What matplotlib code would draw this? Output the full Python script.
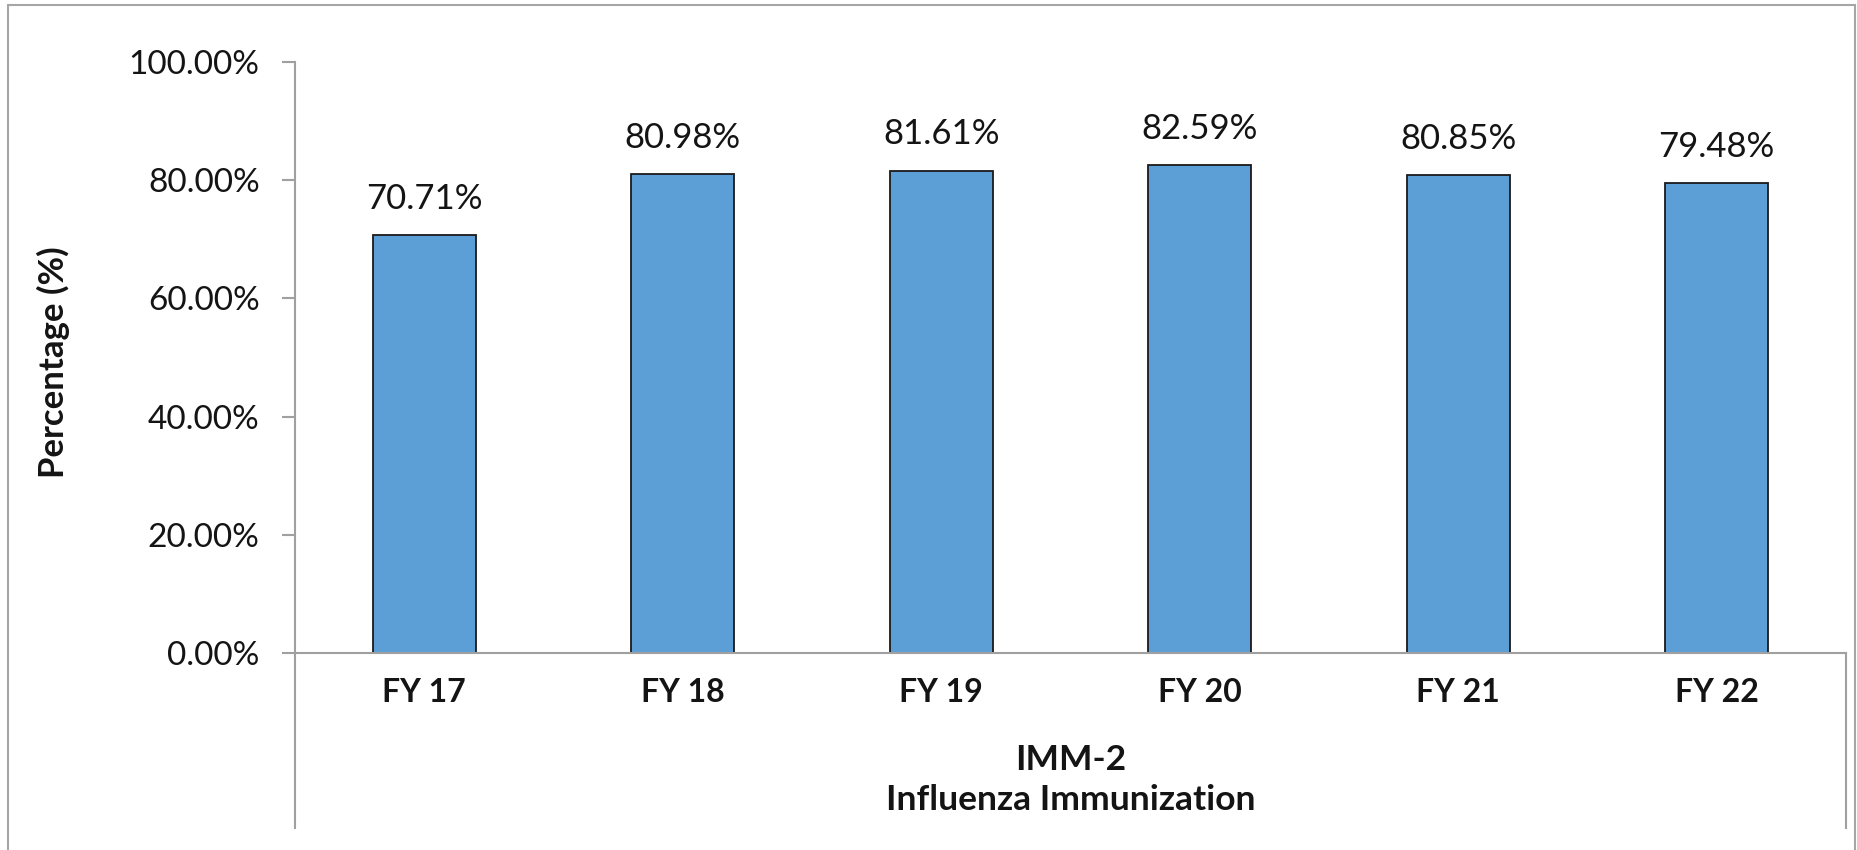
import matplotlib
matplotlib.use("Agg")
import matplotlib.pyplot as plt
from matplotlib.patches import Rectangle
from matplotlib.lines import Line2D
from matplotlib.ticker import FuncFormatter

categories = ["FY 17", "FY 18", "FY 19", "FY 20", "FY 21", "FY 22"]
values = [70.71, 80.98, 81.61, 82.59, 80.85, 79.48]
yticks = [0, 20, 40, 60, 80, 100]
group_label = "IMM-2\nInfluenza Immunization"
y_label = "Percentage (%)"

plt.rcParams['font.family'] = ['Lato', 'DejaVu Sans']

W, H = 1857, 850
fig = plt.figure(figsize=(W / 100, H / 100), dpi=100)

ax_l, ax_r, ax_b, ax_t = 295, 1846, 653, 62
ax = fig.add_axes([ax_l / W, (H - ax_b) / H, (ax_r - ax_l) / W, (ax_b - ax_t) / H])

x = list(range(len(categories)))
bars = ax.bar(x, values, width=0.4, color="#5B9FD6", edgecolor="#1a1a1a", linewidth=1.3, zorder=3)

txtc = "#141414"
for xi, v in zip(x, values):
    ax.annotate(f"{v:.2f}%", (xi, v), xytext=(0, 19), textcoords="offset points",
                ha="center", va="baseline", fontsize=25, color=txtc)

ax.set_xlim(-0.5, len(categories) - 0.5)
ax.set_ylim(0, 100)
ax.set_yticks(yticks)
ax.yaxis.set_major_formatter(FuncFormatter(lambda v, p: f"{v:.2f}%"))
ax.set_xticks(x)
ax.set_xticklabels(categories, fontweight="bold")

axis_c = "#a0a0a0"
for s in ["top", "right"]:
    ax.spines[s].set_visible(False)
for s in ["left", "bottom"]:
    ax.spines[s].set_color(axis_c)
    ax.spines[s].set_linewidth(1.5)
    ax.spines[s].set_zorder(4)

ax.tick_params(axis="y", length=9.4, width=1.5, color=axis_c, pad=16, labelsize=24, labelcolor=txtc)
ax.tick_params(axis="x", length=0, pad=18, labelsize=23, labelcolor=txtc)

# category box below the axis
depth = (828 - ax_b) / (ax_b - ax_t)
ax.add_line(Line2D([0, 0], [0, -depth], transform=ax.transAxes, color=axis_c, lw=1.5, clip_on=False))
ax.add_line(Line2D([1, 1], [0, -depth], transform=ax.transAxes, color=axis_c, lw=1.5, clip_on=False))

ax.text(0.5, -(744 - ax_b) / (ax_b - ax_t), group_label, transform=ax.transAxes,
        ha="center", va="top", fontsize=25.5, fontweight="bold", color=txtc, linespacing=1.32)

fig.text(53 / W, (H - 362) / H, y_label, rotation=90, ha="center", va="center",
         fontsize=25, fontweight="bold", color=txtc)

# outer chart border
fig.patches.append(Rectangle((8 / W, -0.05), (1855 - 8) / W, (H - 5) / H + 0.05,
                             transform=fig.transFigure, fill=False, edgecolor="#a6a6a6", lw=1.5))

fig.savefig("out.png", dpi=100, facecolor="white")
